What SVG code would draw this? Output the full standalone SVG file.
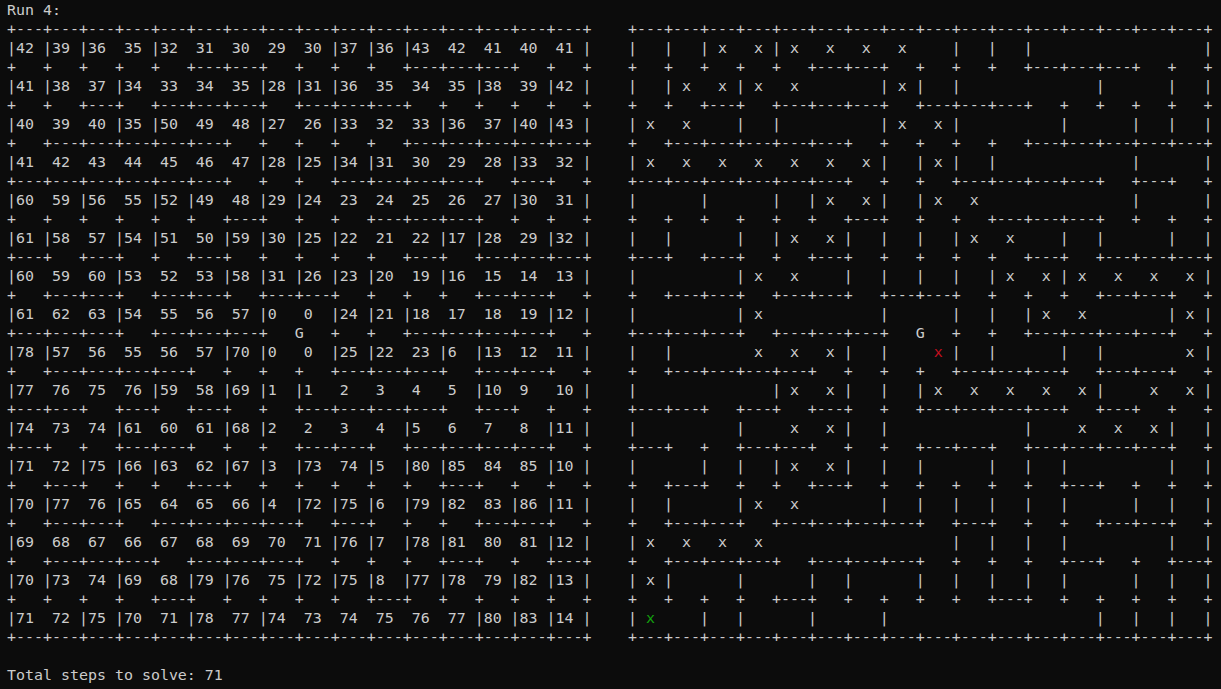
<svg xmlns="http://www.w3.org/2000/svg" width="1221" height="689" viewBox="0 0 1221 689">
<style>
text{font-family:"DejaVu Sans Mono","Liberation Mono",monospace;font-size:14.95px;fill:#cccccc;white-space:pre}
.r{fill:#c50f1f}
.g{fill:#13a10e}
</style>
<rect x="0" y="0" width="1221" height="689" fill="#0c0c0c"/>
<g id="header"><text x="7" y="15" xml:space="preserve">Run 4:</text></g>
<g id="maze-distances">
<text x="7" y="34" xml:space="preserve">+---+---+---+---+---+---+---+---+---+---+---+---+---+---+---+---+</text>
<text x="7" y="53" xml:space="preserve">|42 |39 |36  35 |32  31  30  29  30 |37 |36 |43  42  41  40  41 |</text>
<text x="7" y="72" xml:space="preserve">+   +   +   +   +   +---+---+   +   +   +   +---+---+---+   +   +</text>
<text x="7" y="91" xml:space="preserve">|41 |38  37 |34  33  34  35 |28 |31 |36  35  34  35 |38  39 |42 |</text>
<text x="7" y="110" xml:space="preserve">+   +   +---+   +---+---+---+   +---+---+---+   +   +   +   +   +</text>
<text x="7" y="129" xml:space="preserve">|40  39  40 |35 |50  49  48 |27  26 |33  32  33 |36  37 |40 |43 |</text>
<text x="7" y="148" xml:space="preserve">+   +---+---+---+---+---+   +   +   +   +   +---+---+---+---+---+</text>
<text x="7" y="167" xml:space="preserve">|41  42  43  44  45  46  47 |28 |25 |34 |31  30  29  28 |33  32 |</text>
<text x="7" y="186" xml:space="preserve">+---+---+---+---+---+---+   +   +   +---+---+---+---+   +---+   +</text>
<text x="7" y="205" xml:space="preserve">|60  59 |56  55 |52 |49  48 |29 |24  23  24  25  26  27 |30  31 |</text>
<text x="7" y="224" xml:space="preserve">+   +   +   +   +   +   +---+   +   +   +---+---+---+   +   +   +</text>
<text x="7" y="243" xml:space="preserve">|61 |58  57 |54 |51  50 |59 |30 |25 |22  21  22 |17 |28  29 |32 |</text>
<text x="7" y="262" xml:space="preserve">+---+   +---+   +   +---+   +   +   +   +   +---+   +---+---+---+</text>
<text x="7" y="281" xml:space="preserve">|60  59  60 |53  52  53 |58 |31 |26 |23 |20  19 |16  15  14  13 |</text>
<text x="7" y="300" xml:space="preserve">+   +---+---+   +---+---+   +---+---+   +   +   +   +---+---+   +</text>
<text x="7" y="319" xml:space="preserve">|61  62  63 |54  55  56  57 |0   0  |24 |21 |18  17  18  19 |12 |</text>
<text x="7" y="338" xml:space="preserve">+---+---+---+   +---+---+---+   G   +   +   +---+---+---+---+   +</text>
<text x="7" y="357" xml:space="preserve">|78 |57  56  55  56  57 |70 |0   0  |25 |22  23 |6  |13  12  11 |</text>
<text x="7" y="376" xml:space="preserve">+   +---+---+---+---+   +   +   +   +---+---+---+   +---+---+   +</text>
<text x="7" y="395" xml:space="preserve">|77  76  75  76 |59  58 |69 |1  |1   2   3   4   5  |10  9   10 |</text>
<text x="7" y="414" xml:space="preserve">+---+---+   +---+   +---+   +   +---+---+---+---+   +---+   +   +</text>
<text x="7" y="433" xml:space="preserve">|74  73  74 |61  60  61 |68 |2   2   3   4  |5   6   7   8  |11 |</text>
<text x="7" y="452" xml:space="preserve">+---+   +   +---+---+   +   +   +---+---+   +---+---+---+---+   +</text>
<text x="7" y="471" xml:space="preserve">|71  72 |75 |66 |63  62 |67 |3  |73  74 |5  |80 |85  84  85 |10 |</text>
<text x="7" y="490" xml:space="preserve">+   +---+   +   +   +---+   +   +   +   +   +   +---+   +   +   +</text>
<text x="7" y="509" xml:space="preserve">|70 |77  76 |65  64  65  66 |4  |72 |75 |6  |79 |82  83 |86 |11 |</text>
<text x="7" y="528" xml:space="preserve">+   +---+---+   +---+---+---+---+   +---+   +   +   +---+---+   +</text>
<text x="7" y="547" xml:space="preserve">|69  68  67  66  67  68  69  70  71 |76 |7  |78 |81  80  81 |12 |</text>
<text x="7" y="566" xml:space="preserve">+   +---+---+---+   +---+---+---+   +   +   +   +---+   +   +---+</text>
<text x="7" y="585" xml:space="preserve">|70 |73  74 |69  68 |79 |76  75 |72 |75 |8  |77 |78  79 |82 |13 |</text>
<text x="7" y="604" xml:space="preserve">+   +   +   +   +---+   +   +   +   +   +---+   +   +   +   +   +</text>
<text x="7" y="623" xml:space="preserve">|71  72 |75 |70  71 |78  77 |74  73  74  75  76  77 |80 |83 |14 |</text>
<text x="7" y="642" xml:space="preserve">+---+---+---+---+---+---+---+---+---+---+---+---+---+---+---+---+</text>
</g>
<g id="maze-path">
<text x="628" y="34" xml:space="preserve">+---+---+---+---+---+---+---+---+---+---+---+---+---+---+---+---+</text>
<text x="628" y="53" xml:space="preserve">|   |   | x   x | x   x   x   x     |   |   |                   |</text>
<text x="628" y="72" xml:space="preserve">+   +   +   +   +   +---+---+   +   +   +   +---+---+---+   +   +</text>
<text x="628" y="91" xml:space="preserve">|   | x   x | x   x         | x |   |               |       |   |</text>
<text x="628" y="110" xml:space="preserve">+   +   +---+   +---+---+---+   +---+---+---+   +   +   +   +   +</text>
<text x="628" y="129" xml:space="preserve">| x   x     |   |           | x   x |           |       |   |   |</text>
<text x="628" y="148" xml:space="preserve">+   +---+---+---+---+---+   +   +   +   +   +---+---+---+---+---+</text>
<text x="628" y="167" xml:space="preserve">| x   x   x   x   x   x   x |   | x |   |               |       |</text>
<text x="628" y="186" xml:space="preserve">+---+---+---+---+---+---+   +   +   +---+---+---+---+   +---+   +</text>
<text x="628" y="205" xml:space="preserve">|       |       |   | x   x |   | x   x                 |       |</text>
<text x="628" y="224" xml:space="preserve">+   +   +   +   +   +   +---+   +   +   +---+---+---+   +   +   +</text>
<text x="628" y="243" xml:space="preserve">|   |       |   | x   x |   |   |   | x   x     |   |       |   |</text>
<text x="628" y="262" xml:space="preserve">+---+   +---+   +   +---+   +   +   +   +   +---+   +---+---+---+</text>
<text x="628" y="281" xml:space="preserve">|           | x   x     |   |   |   |   | x   x | x   x   x   x |</text>
<text x="628" y="300" xml:space="preserve">+   +---+---+   +---+---+   +---+---+   +   +   +   +---+---+   +</text>
<text x="628" y="319" xml:space="preserve">|           | x             |       |   |   | x   x         | x |</text>
<text x="628" y="338" xml:space="preserve">+---+---+---+   +---+---+---+   G   +   +   +---+---+---+---+   +</text>
<text x="628" y="357" xml:space="preserve">|   |         x   x   x |   |     <tspan class="r">x</tspan> |   |       |   |         x |</text>
<text x="628" y="376" xml:space="preserve">+   +---+---+---+---+   +   +   +   +---+---+---+   +---+---+   +</text>
<text x="628" y="395" xml:space="preserve">|               | x   x |   |   | x   x   x   x   x |     x   x |</text>
<text x="628" y="414" xml:space="preserve">+---+---+   +---+   +---+   +   +---+---+---+---+   +---+   +   +</text>
<text x="628" y="433" xml:space="preserve">|           |     x   x |   |               |     x   x   x |   |</text>
<text x="628" y="452" xml:space="preserve">+---+   +   +---+---+   +   +   +---+---+   +---+---+---+---+   +</text>
<text x="628" y="471" xml:space="preserve">|       |   |   | x   x |   |   |       |   |   |           |   |</text>
<text x="628" y="490" xml:space="preserve">+   +---+   +   +   +---+   +   +   +   +   +   +---+   +   +   +</text>
<text x="628" y="509" xml:space="preserve">|   |       | x   x         |   |   |   |   |   |       |   |   |</text>
<text x="628" y="528" xml:space="preserve">+   +---+---+   +---+---+---+---+   +---+   +   +   +---+---+   +</text>
<text x="628" y="547" xml:space="preserve">| x   x   x   x                     |   |   |   |           |   |</text>
<text x="628" y="566" xml:space="preserve">+   +---+---+---+   +---+---+---+   +   +   +   +---+   +   +---+</text>
<text x="628" y="585" xml:space="preserve">| x |       |       |   |       |   |   |   |   |       |   |   |</text>
<text x="628" y="604" xml:space="preserve">+   +   +   +   +---+   +   +   +   +   +---+   +   +   +   +   +</text>
<text x="628" y="623" xml:space="preserve">| <tspan class="g">x</tspan>     |   |       |       |                       |   |   |   |</text>
<text x="628" y="642" xml:space="preserve">+---+---+---+---+---+---+---+---+---+---+---+---+---+---+---+---+</text>
</g>
<g id="footer"><text x="7" y="680" xml:space="preserve">Total steps to solve: 71</text></g>
</svg>
